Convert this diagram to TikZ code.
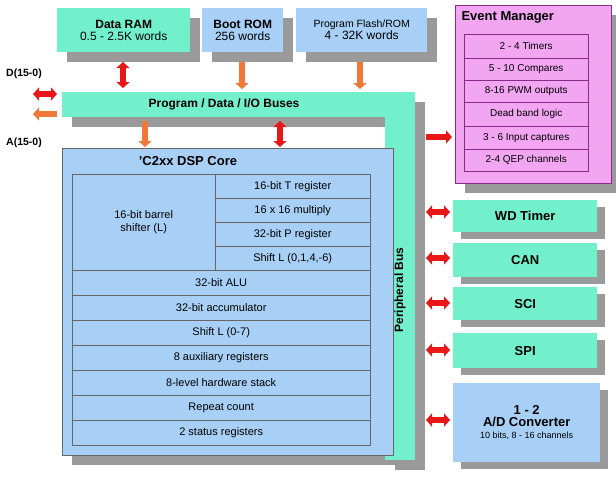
\documentclass[tikz,border=0pt]{standalone}
\usepackage{fontspec}
\setmainfont{Liberation Sans}
\usetikzlibrary{arrows.meta}
\definecolor{teal1}{HTML}{72F0CC}
\definecolor{blue1}{HTML}{A8D0F6}
\definecolor{pink1}{HTML}{F2A6F2}
\definecolor{purp}{HTML}{8A2A8A}
\definecolor{shad}{HTML}{9A9A9A}
\definecolor{ared}{HTML}{E81818}
\definecolor{aor}{HTML}{F07838}
\begin{document}
\begin{tikzpicture}[x=1pt,y=-1pt,
  box/.style={draw=none,fill=#1,inner sep=0pt},
  cell/.style={draw=black!60,fill=blue1,inner sep=0pt,font=\fontsize{11}{12.5}\selectfont},
  ecell/.style={draw=purp,fill=pink1,inner sep=0pt,font=\fontsize{10}{11}\selectfont},
  redd/.style={ared,line width=6pt,{Triangle[length=6pt,width=13pt]}-{Triangle[length=6pt,width=13pt]}},
  ored/.style={ared,line width=6pt,-{Triangle[length=6pt,width=13pt]}},
  oarr/.style={aor,line width=6pt,-{Triangle[length=6pt,width=13pt]}},
  bt/.style={font=\bfseries\fontsize{12}{14}\selectfont}]
\useasboundingbox (0,0) rectangle (616,480);
% shadows
\fill[shad] (67,18) rectangle (200,62);
\fill[shad] (212,18) rectangle (293,62);
\fill[shad] (306,18) rectangle (437,62);
\fill[shad] (465,15) rectangle (621,193);
\fill[shad] (72,102) rectangle (425,127);
\fill[shad] (395,102) rectangle (425,470);
\fill[shad] (72,158) rectangle (403,465);
\foreach \y/\h in {200/32,243/34,287/33,333/35} \fill[shad] (461,\y+7) rectangle (605,\y+\h+7);
\fill[shad] (461,390) rectangle (608,469);
% memories
\node[box=teal1,minimum width=133pt,minimum height=44pt,anchor=north west,align=center] (ram) at (57,8) {\textbf{\fontsize{12}{14}\selectfont Data RAM}\\\fontsize{12}{14}\selectfont 0.5 - 2.5K words};
\node[box=blue1,minimum width=81pt,minimum height=44pt,anchor=north west,align=center] (boot) at (202,8) {\textbf{\fontsize{12}{14}\selectfont Boot ROM}\\\fontsize{12}{14}\selectfont 256 words};
\node[box=blue1,minimum width=131pt,minimum height=44pt,anchor=north west,align=center] (flash) at (296,8) {\fontsize{10.5}{13}\selectfont Program Flash/ROM\\\fontsize{12}{14}\selectfont 4 - 32K words};
% bus
\fill[teal1] (62,92) rectangle (415,117);
\fill[teal1] (385,92) rectangle (415,460);
\node[bt] (bus) at (224,104) {Program / Data / I/O Buses};
\node[bt,rotate=90] (pbus) at (400,290) {Peripheral Bus};
% core
\node[draw=black!60,fill=blue1,minimum width=331pt,minimum height=307pt,anchor=north west] (core) at (62,148) {};
\node[font=\bfseries\fontsize{13}{15}\selectfont] at (188,161) {'C2xx DSP Core};
\node[cell,minimum width=143pt,minimum height=96pt,anchor=north west,align=center] (bs) at (72,174) {16-bit barrel\\shifter (L)};
\foreach \t [count=\i] in {16-bit T register,16 x 16 multiply,32-bit P register,{Shift L (0,1,4,-6)}}
  \node[cell,minimum width=155pt,minimum height=24pt,anchor=north west] (r\i) at (215,150+24*\i) {\t};
\foreach \t [count=\i] in {32-bit ALU,32-bit accumulator,Shift L (0-7),8 auxiliary registers,8-level hardware stack,Repeat count,2 status registers}
  \node[cell,minimum width=298pt,minimum height=25pt,anchor=north west] (c\i) at (72,245+25*\i) {\t};
% event manager
\node[draw=purp,fill=pink1,minimum width=156pt,minimum height=178pt,anchor=north west] (em) at (455,5) {};
\node[font=\bfseries\fontsize{13}{15}\selectfont,anchor=west] at (458,17) {Event Manager};
\foreach \t/\a/\b [count=\i] in {2 - 4 Timers/34/58,5 - 10 Compares/58/80,8-16 PWM outputs/80/102,Dead band logic/102/126,3 - 6 Input captures/126/149,2-4 QEP channels/149/171}
  \node[ecell,minimum width=124pt,minimum height=\b pt-\a pt,anchor=north west] (e\i) at (464,\a) {\t};
% peripherals
\foreach \t/\y/\h/\n in {WD Timer/200/32/wd,CAN/243/34/can,SCI/287/33/sci,SPI/333/35/spi}
  \node[box=teal1,minimum width=144pt,minimum height=\h pt,anchor=north west,font=\bfseries\fontsize{13}{15}\selectfont] (\n) at (453,\y) {\t};
\node[box=blue1,minimum width=147pt,minimum height=79pt,anchor=north west,align=center] (ad) at (453,383) {\bfseries\fontsize{13}{15}\selectfont 1 - 2\\\bfseries\fontsize{13}{15}\selectfont A/D Converter\\\fontsize{9}{11}\selectfont 10 bits, 8 - 16 channels};
% labels
\node[font=\bfseries\fontsize{10.5}{12}\selectfont] (dl) at (24,74) {D(15-0)};
\node[font=\bfseries\fontsize{10.5}{12}\selectfont] (al) at (24,143) {A(15-0)};
% arrows
\draw[redd] (123,62) -- (123,88);
\draw[oarr] (242,62) -- (242,89);
\draw[oarr] (360,62) -- (360,89);
\draw[oarr] (145,121) -- (145,147);
\draw[redd] (280,121) -- (280,147);
\draw[redd] (33,94) -- (57,94);
\draw[oarr] (57,114) -- (33,114);
\draw[ored] (426,137) -- (452,137);
\foreach \y in {212,258,303,350,420} \draw[redd] (426,\y) -- (450,\y);
\end{tikzpicture}
\end{document}
